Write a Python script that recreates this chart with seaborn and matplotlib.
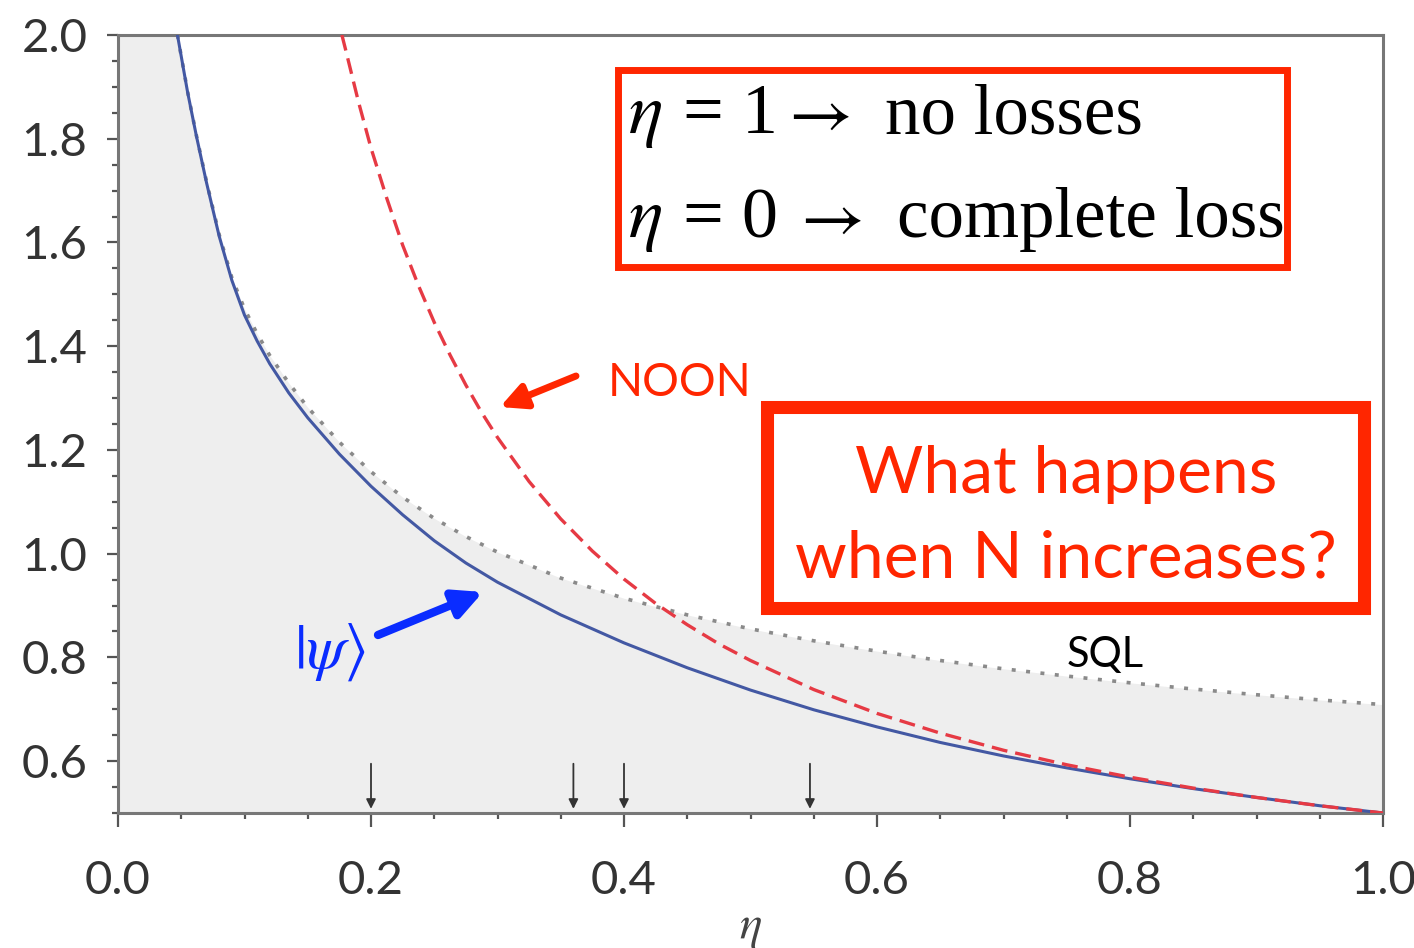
import matplotlib
matplotlib.use("Agg")
import matplotlib.pyplot as plt
import seaborn as sns
import pandas as pd
from matplotlib.patches import Rectangle
from matplotlib.ticker import MultipleLocator

# ---------------- data ----------------
eta_psi = [0.047, 0.055, 0.062, 0.07, 0.08, 0.09, 0.10, 0.11, 0.12, 0.135, 0.15,
           0.175, 0.20, 0.225, 0.25, 0.275, 0.30, 0.35, 0.40, 0.45, 0.50, 0.55,
           0.60, 0.65, 0.70, 0.75, 0.80, 0.85, 0.90, 0.95, 1.00]
psi_vals = [2.000, 1.890, 1.805, 1.715, 1.612, 1.527, 1.460, 1.410, 1.366, 1.310, 1.262,
            1.192, 1.130, 1.075, 1.025, 0.982, 0.945, 0.882, 0.828, 0.780, 0.737, 0.699,
            0.666, 0.636, 0.610, 0.587, 0.566, 0.547, 0.530, 0.514, 0.500]

eta_sql = [0.047, 0.055, 0.062, 0.07, 0.08, 0.09, 0.10, 0.11, 0.12, 0.135, 0.15,
           0.175, 0.20, 0.225, 0.25, 0.275, 0.30, 0.35, 0.40, 0.45, 0.50, 0.55,
           0.60, 0.65, 0.70, 0.75, 0.80, 0.85, 0.90, 0.95, 1.00]
sql_vals = [2.000, 1.891, 1.806, 1.717, 1.615, 1.532, 1.472, 1.424, 1.382, 1.329, 1.282,
            1.215, 1.158, 1.109, 1.068, 1.033, 1.003, 0.953, 0.914, 0.882, 0.855, 0.832,
            0.812, 0.794, 0.778, 0.764, 0.751, 0.739, 0.728, 0.718, 0.709]

eta_noon = [0.177, 0.18, 0.19, 0.20, 0.2125, 0.225, 0.2375, 0.25, 0.2625, 0.275, 0.2875,
            0.30, 0.325, 0.35, 0.375, 0.40, 0.425, 0.45, 0.475, 0.50, 0.55, 0.60,
            0.65, 0.70, 0.75, 0.80, 0.85, 0.90, 0.95, 1.00]
noon_vals = [2.000, 1.971, 1.872, 1.782, 1.685, 1.595, 1.517, 1.446, 1.383, 1.325, 1.272,
             1.224, 1.139, 1.067, 1.005, 0.951, 0.904, 0.863, 0.826, 0.794, 0.738, 0.692,
             0.654, 0.621, 0.593, 0.569, 0.548, 0.530, 0.514, 0.500]

arrow_etas = [0.20, 0.36, 0.40, 0.547]

x_ticks = [0.0, 0.2, 0.4, 0.6, 0.8, 1.0]
x_tick_labels = ["0.0", "0.2", "0.4", "0.6", "0.8", "1.0"]
y_ticks = [0.6, 0.8, 1.0, 1.2, 1.4, 1.6, 1.8, 2.0]
y_tick_labels = ["0.6", "0.8", "1.0", "1.2", "1.4", "1.6", "1.8", "2.0"]

box1_eq = ["= 1", "= 0"]
box1_words = ["no losses", "complete loss"]
box2_lines = ["What happens", "when N increases?"]

# ---------------- style ----------------
sns.set_theme(style="white")
plt.rcParams["font.family"] = ["Lato", "DejaVu Sans"]
plt.rcParams["mathtext.fontset"] = "stix"

W, H = 1414, 948
fig = plt.figure(figsize=(W / 100, H / 100), dpi=100)
fig.patch.set_facecolor("white")
L, R, T, B = 118, 1383, 35, 813
ax = fig.add_axes([L / W, 1 - B / H, (R - L) / W, (B - T) / H])
ax.set_facecolor("white")

RED = "#ff2600"
BLUE_TXT = "#0a2cff"

df_sql = pd.DataFrame({"eta": eta_sql, "val": sql_vals})
df_psi = pd.DataFrame({"eta": eta_psi, "val": psi_vals})
df_noon = pd.DataFrame({"eta": eta_noon, "val": noon_vals})

# shaded region below the SQL curve
ax.fill_between([0.0] + eta_sql, 0.5, [2.0] + sql_vals, color="#eeeeee", lw=0, zorder=0)

sns.lineplot(data=df_sql, x="eta", y="val", ax=ax, color="#8a8a8a", lw=2.6,
             linestyle=(0, (1.1, 2.9)), zorder=2)
sns.lineplot(data=df_psi, x="eta", y="val", ax=ax, color="#4358a3", lw=2.2, zorder=3)
sns.lineplot(data=df_noon, x="eta", y="val", ax=ax, color="#e63a44", lw=2.4,
             linestyle=(0, (4.8, 2.4)), zorder=4)

for e in arrow_etas:
    ax.annotate("", xy=(e, 0.508), xytext=(e, 0.595),
                arrowprops=dict(arrowstyle="-|>", color="#333333", lw=1.3,
                                mutation_scale=14, shrinkA=0, shrinkB=0), zorder=5)

ax.set_xlim(0.0, 1.0)
ax.set_ylim(0.5, 2.0)
ax.set_xticks(x_ticks)
ax.set_xticklabels(x_tick_labels)
ax.set_yticks(y_ticks)
ax.set_yticklabels(y_tick_labels)
ax.xaxis.set_minor_locator(MultipleLocator(0.05))
ax.yaxis.set_minor_locator(MultipleLocator(0.05))
ax.tick_params(axis="both", which="major", direction="out", colors="#555555",
               labelcolor="#333333", labelsize=34, width=1.6)
ax.tick_params(axis="x", which="major", length=10, pad=24)
ax.tick_params(axis="y", which="major", length=8, pad=14)
ax.tick_params(axis="both", which="minor", direction="out", color="#555555",
               length=4.5, width=1.6)
ax.tick_params(bottom=True, left=True, which="both")
for sp in ax.spines.values():
    sp.set_color("#777777")
    sp.set_linewidth(2.2)
    sp.set_visible(True)

ax.set_xlabel(r"$\eta$", fontsize=34, color="#444444", labelpad=4)
ax.set_ylabel("")


def fx(px):
    return px / W


def fy(py):
    return 1 - py / H


# box 1 (loss explanation)
fig.patches.append(Rectangle((fx(617.5), fy(266.5)), (1286.5 - 617.5) / W, (266.5 - 69.5) / H,
                             transform=fig.transFigure, fill=True, facecolor="white",
                             edgecolor=RED, lw=5.0, zorder=10))
rows_y = [133, 237]
eq_x = [683, 683]
arrow_x = [778, 790]
word_x = [885, 897]
for i in range(2):
    fig.text(fx(628), fy(rows_y[i]), r"$\eta$", fontsize=52, color="black",
             va="baseline", ha="left", zorder=11)
    fig.text(fx(eq_x[i]), fy(rows_y[i]), box1_eq[i], fontsize=52, family="Liberation Serif",
             color="black", va="baseline", ha="left", zorder=11)
    fig.text(fx(arrow_x[i]), fy(rows_y[i]), r"$\rightarrow$", fontsize=50, color="black",
             va="baseline", ha="left", zorder=11)
    fig.text(fx(word_x[i]), fy(rows_y[i]), box1_words[i], fontsize=51,
             family="Liberation Serif", color="black", va="baseline", ha="left", zorder=11)

# box 2 (question)
fig.patches.append(Rectangle((fx(766.5), fy(607.5)), (1363.5 - 766.5) / W, (607.5 - 406.5) / H,
                             transform=fig.transFigure, fill=True, facecolor="white",
                             edgecolor=RED, lw=9.4, zorder=10))
fig.text(fx(1066), fy(493), box2_lines[0], fontsize=47.5, color=RED, ha="center",
         va="baseline", zorder=11)
fig.text(fx(1066), fy(577), box2_lines[1], fontsize=47.5, color=RED, ha="center",
         va="baseline", zorder=11)

# labels and pointing arrows
fig.text(fx(608), fy(396), "NOON", fontsize=33, color=RED, ha="left", va="baseline")
fig.text(fx(1067), fy(667), "SQL", fontsize=30, color="black", ha="left", va="baseline")
fig.text(fx(294), fy(668), r"$|\psi\rangle$", fontsize=45, color=BLUE_TXT, ha="left",
         va="baseline")

ax.annotate("", xy=(500, H - 407), xycoords="figure pixels",
            xytext=(576, H - 376), textcoords="figure pixels",
            arrowprops=dict(arrowstyle="-|>", color=RED, lw=5, mutation_scale=38,
                            shrinkA=0, shrinkB=0))
ax.annotate("", xy=(483, H - 592), xycoords="figure pixels",
            xytext=(378, H - 635), textcoords="figure pixels",
            arrowprops=dict(arrowstyle="-|>", color=BLUE_TXT, lw=6, mutation_scale=42,
                            shrinkA=0, shrinkB=0))

fig.savefig("out.png", dpi=100, facecolor="white")
